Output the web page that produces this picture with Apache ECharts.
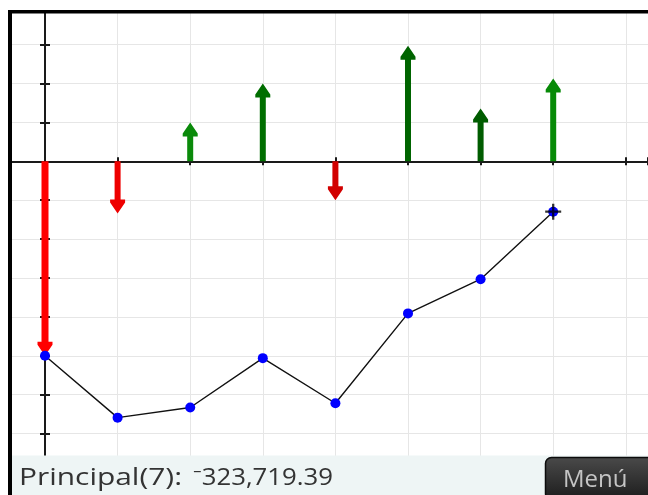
<!DOCTYPE html>
<html>
<head>
<meta charset="utf-8">
<script src="https://cdn.jsdelivr.net/npm/echarts@6/dist/echarts.min.js"></script>
<style>
html,body{margin:0;padding:0;background:#fff;}
#chart{width:648px;height:495px;}
</style>
</head>
<body>
<div id="chart"></div>
<script>
// Data (money units)
const periods = [0, 1, 2, 3, 4, 5, 6, 7];
const cashFlows = [-1250000, -335000, 250000, 500000, -250000, 742500, 340000, 532500];
const balances = [-1250000, -1647500, -1582500, -1265000, -1555000, -977500, -757500, -323719.39];
const statusLabel = 'Principal(7):';
const statusValue = '\u207B323,719.39';
const menuText = 'Menú';

// Styles / layout
const arrowColors = ['#ff0000', '#ee0000', '#0a8a0a', '#006e00', '#d20000', '#006400', '#005c00', '#078a07'];
const W = 648, H = 495;
const x0px = 45, xStep = 72.6;      // pixel of period 0, pixels per period
const y0px = 161.3, yStep = 38.9;   // pixel of zero, pixels per 250,000
const yUnit = 250000;

const chart = echarts.init(document.getElementById('chart'), null, {renderer: 'canvas'});

const xMin = -x0px / xStep, xMax = (W - x0px) / xStep;
const xCommon = {type: 'value', min: xMin, max: xMax, minInterval: 1, maxInterval: 1, axisLabel: {show: false}};
const yCommon = {type: 'value', min: -8 * yUnit, max: 4 * yUnit, interval: yUnit, axisLabel: {show: false}};
const axisLineStyle = {color: '#1a1a1a', width: 2};
const tickStyle = {color: '#1a1a1a', width: 2};

const option = {
  animation: false,
  backgroundColor: '#ffffff',
  grid: {left: 0, top: y0px - 4 * yStep, width: W, height: yStep * 12, containLabel: false},
  xAxis: [
    Object.assign({}, xCommon, {position: 'bottom',
      axisLine: {show: true, onZero: true, lineStyle: axisLineStyle},
      axisTick: {show: true, length: 4, lineStyle: tickStyle},
      splitLine: {show: true, lineStyle: {color: '#e6e6e6', width: 1}}}),
    Object.assign({}, xCommon, {position: 'top',
      axisLine: {show: true, onZero: true, lineStyle: axisLineStyle},
      axisTick: {show: true, length: 4, lineStyle: tickStyle},
      splitLine: {show: false}})
  ],
  yAxis: [
    Object.assign({}, yCommon, {position: 'left',
      axisLine: {show: true, onZero: true, lineStyle: axisLineStyle},
      axisTick: {show: true, length: 5, lineStyle: tickStyle},
      splitLine: {show: true, lineStyle: {color: '#e6e6e6', width: 1}}}),
    Object.assign({}, yCommon, {position: 'right',
      axisLine: {show: true, onZero: true, lineStyle: axisLineStyle},
      axisTick: {show: true, length: 5, lineStyle: tickStyle},
      splitLine: {show: false}})
  ],
  series: [
    {
      type: 'custom',
      xAxisIndex: 0, yAxisIndex: 0,
      z: 3,
      data: periods.map((p, k) => [p, cashFlows[k]]),
      renderItem: function (params, api) {
        const i = api.value(0), v = api.value(1);
        const p0 = api.coord([i, 0]);
        const p1 = api.coord([i, v]);
        const s = v > 0 ? 1 : -1;
        const x = p0[0], ya = p0[1], yb = p1[1];
        const hw = params.dataIndex === 0 ? 3.5 : 3, aw = 7.5, ah = 11, ab = 14;
        const pts = [
          [x, yb], [x + aw, yb + s * ah], [x + aw, yb + s * ab], [x + hw, yb + s * ab],
          [x + hw, ya], [x - hw, ya], [x - hw, yb + s * ab], [x - aw, yb + s * ab], [x - aw, yb + s * ah]
        ];
        return {type: 'polygon', shape: {points: pts}, style: {fill: arrowColors[params.dataIndex], stroke: null}};
      }
    },
    {
      type: 'line',
      xAxisIndex: 0, yAxisIndex: 0,
      z: 4,
      data: periods.map((p, k) => [p, balances[k]]),
      symbol: 'circle',
      symbolSize: 10,
      itemStyle: {color: '#0000ff'},
      lineStyle: {color: '#111111', width: 1.4},
      emphasis: {disabled: true}
    },
    {
      type: 'scatter',
      xAxisIndex: 0, yAxisIndex: 0,
      z: 5,
      data: [[periods[7], balances[7]]],
      symbol: 'path://M6,0h2v6h6v2h-6v6h-2v-6h-6v-2h6z',
      symbolSize: 16,
      itemStyle: {color: '#000000'}
    }
  ],
  graphic: [
    {type: 'rect', z: 100, shape: {x: 0, y: 0, width: W, height: 10}, style: {fill: '#ffffff'}},
    {type: 'rect', z: 100, shape: {x: 0, y: 0, width: 8, height: H}, style: {fill: '#ffffff'}},
    {type: 'rect', z: 101, shape: {x: 8, y: 10, width: W - 8, height: 3.5}, style: {fill: '#000000'}},
    {type: 'rect', z: 101, shape: {x: 8, y: 10, width: 4, height: H - 10}, style: {fill: '#000000'}},
    {type: 'rect', z: 100, shape: {x: 12, y: 455.5, width: W - 12, height: 40}, style: {fill: '#eef5f5'}},
    {type: 'text', z: 102, x: 19, y: 466.5, scaleX: 1.3, scaleY: 1,
      style: {text: statusLabel, font: '23px "Open Sans", "Noto Sans", sans-serif', fill: '#333333', verticalAlign: 'top'}},
    {type: 'text', z: 102, x: 193, y: 466.5, scaleX: 1.12, scaleY: 1,
      style: {text: statusValue, font: '23px "Open Sans", "Noto Sans", sans-serif', fill: '#333333', verticalAlign: 'top'}},
    {type: 'rect', z: 102, shape: {x: 545.5, y: 457.5, width: 110, height: 42, r: 6},
      style: {fill: new echarts.graphic.LinearGradient(0, 0, 0, 1, [{offset: 0, color: '#4a4a4a'}, {offset: 1, color: '#1c1c1c'}]), stroke: '#0c0c0c', lineWidth: 1.5}},
    {type: 'text', z: 103, x: 563, y: 468,
      style: {text: menuText, font: '24px "Open Sans", "Noto Sans", sans-serif', fill: '#c4c4c4', verticalAlign: 'top'}}
  ]
};
chart.setOption(option);
</script>
</body>
</html>
